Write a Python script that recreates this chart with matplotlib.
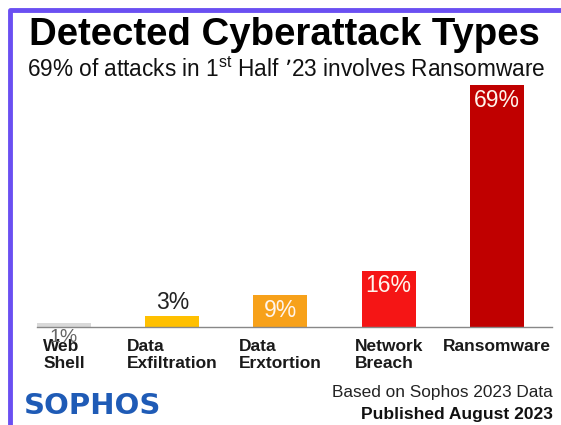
import matplotlib.pyplot as plt
from matplotlib.lines import Line2D

plt.rcParams['font.family'] = ['Liberation Sans', 'DejaVu Sans']

categories = ['Web\nShell', 'Data\nExfiltration', 'Data\nErxtortion', 'Network\nBreach', 'Ransomware']
values = [1, 3, 9, 16, 69]
colors = ['#d9d9d9', '#ffc000', '#f7a11a', '#f51515', '#c00000']

fig = plt.figure(figsize=(5.61, 4.25), dpi=100)
W, H = 561, 425

# purple frame, only top and left edges are in view
fx, fy = 9.5 / W, 1 - 10 / H
frame = Line2D([fx, fx, 1.01], [-0.01, fy, fy], transform=fig.transFigure,
               color='#6a4ff2', linewidth=3.5, solid_joinstyle='round',
               zorder=10)
fig.lines.append(frame)

ax = fig.add_axes([37 / W, 1 - 327 / H, (552 - 37) / W, (327 - 85) / H])
x = range(len(values))
ax.bar(x, values, width=0.5, color=colors, zorder=2)
ax.set_xlim(-0.25, 4.51)
ax.set_ylim(0, 69)
for s in ['top', 'right', 'left']:
    ax.spines[s].set_visible(False)
ax.spines['bottom'].set_color('#888888')
ax.spines['bottom'].set_linewidth(1.0)
ax.set_yticks([])
ax.set_xticks([])

for i, (c, v) in enumerate(zip(categories, values)):
    ax.text(i, -3.4, c, ha='center', va='top', multialignment='left',
            fontsize=12.5, fontweight='bold', color='#1a1a1a', linespacing=1.2)
    if v >= 9:
        ax.text(i, v - 1.0, f'{v}%', ha='center', va='top', fontsize=16.5,
                color='#fff4ec')
    elif v >= 3:
        ax.text(i, v + 0.8, f'{v}%', ha='center', va='bottom', fontsize=16.5,
                color='#222222')
    else:
        ax.text(i, -0.5, f'{v}%', ha='center', va='top', fontsize=14,
                color='#666666')

fig.text(284 / W, 1 - 45 / H, 'Detected Cyberattack Types', ha='center', va='baseline',
         fontsize=27.6, fontweight='bold', color='black')
fig.text(286 / W, 1 - 77 / H, "69% of attacks in 1$^{\\mathregular{st}}$ Half \u201923 involves Ransomware",
         ha='center', va='baseline', fontsize=16.3, color='#111111')

fig.text(24 / W, 1 - 414 / H, 'SOPHOS', ha='left', va='baseline', fontsize=21,
         fontweight='heavy', color='#1f5bb6', family=['DejaVu Sans'])
fig.text(553 / W, 1 - 397 / H, 'Based on Sophos 2023 Data', ha='right', va='baseline',
         fontsize=12.4, color='#222222')
fig.text(553 / W, 1 - 419 / H, 'Published August 2023', ha='right', va='baseline',
         fontsize=12.5, fontweight='bold', color='#111111')

fig.savefig('out.png', dpi=100)
